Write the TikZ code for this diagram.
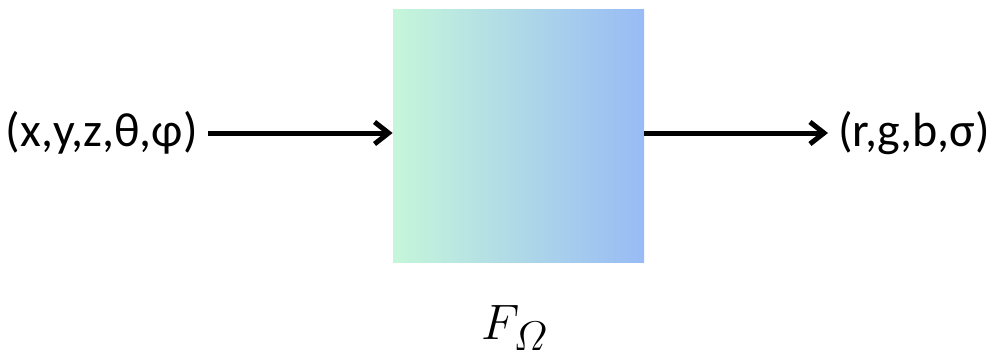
\documentclass[tikz,border=0pt]{standalone}
\usepackage{fontspec}
\setmainfont{Carlito}
\usepackage{amsmath}
\usetikzlibrary{arrows.meta,positioning}
\definecolor{mlpgreen}{RGB}{198,246,218}
\definecolor{mlpblue}{RGB}{152,187,245}

\begin{document}
\begin{tikzpicture}[x=0.5pt, y=-0.5pt,
        mlp/.style={minimum width=125.5pt, minimum height=126pt, inner sep=0pt, left color=mlpgreen, right color=mlpblue, draw=none},
        tuple/.style={font=\fontsize{24}{28}\selectfont, inner sep=0pt},
        arrow/.style={-{Straight Barb[length=7pt, width=11pt]}, line width=2.5pt}
    ]
        \useasboundingbox (0,0) rectangle (995,358);
        \node[mlp] (net) at (518.5,136) {};
        \node[tuple, anchor=east] (inp) at (198,133) {(x,y,z,θ,φ)};
        \node[tuple, anchor=west] (out) at (838,133) {(r,g,b,σ)};
        \node[font=\fontsize{31}{36}\selectfont] (lbl) at (515,328) {$F_{\varOmega}$};

        \draw[arrow] ([xshift=5pt]inp.east) -- (inp.east -| net.west);
        \draw[arrow] (out.west -| net.east) -- ([xshift=-5pt]out.west);
    \end{tikzpicture}
\end{document}
